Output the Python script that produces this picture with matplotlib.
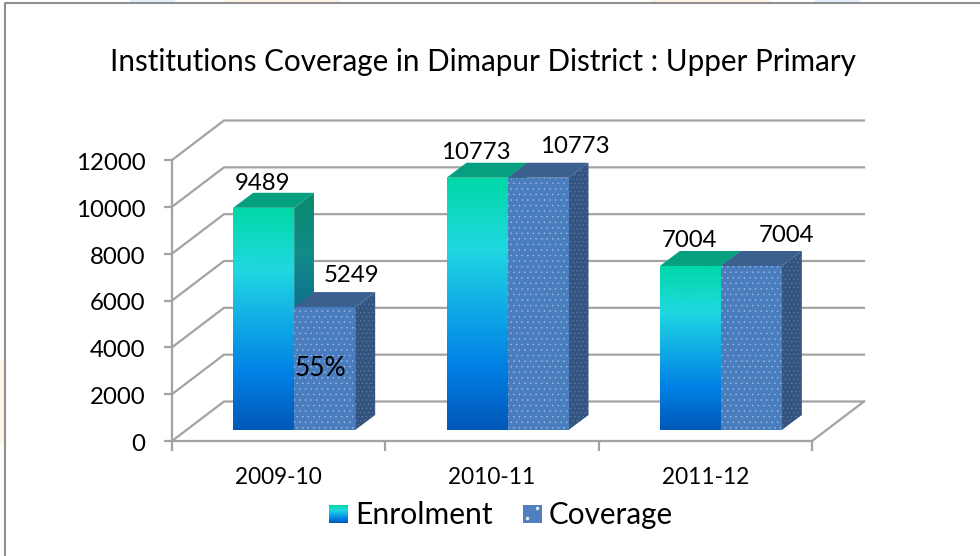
import numpy as np
import matplotlib
matplotlib.use("Agg")
import matplotlib.pyplot as plt
from matplotlib.colors import LinearSegmentedColormap
from matplotlib.lines import Line2D
from matplotlib.patches import Polygon, Rectangle
from matplotlib.transforms import ScaledTranslation

years = ["2009-10", "2010-11", "2011-12"]
enrolment = [9489, 10773, 7004]
coverage = [5249, 10773, 7004]
yticks = [0, 2000, 4000, 6000, 8000, 10000, 12000]
title = "Institutions Coverage in Dimapur District : Upper Primary"
note = "55%"

plt.rcParams["font.family"] = ["Lato", "DejaVu Sans"]
plt.rcParams["hatch.linewidth"] = 0.3

W, H = 980, 556
fig = plt.figure(figsize=(W / 100, H / 100), dpi=100, facecolor="white")
ax = fig.add_axes([172 / W, (H - 441) / H, 640 / W, 281 / H])
ax.set_xlim(0, 3)
ax.set_ylim(0, 12000)

# pixels to data units, the 3d look is only offsets
ux = 3 / 640
uy = 12000 / 281
back_x, back_y = 52 * ux, 39.5 * uy
base_x, base_y = 15.5 * ux, 11 * uy
depth_x, depth_y = 20 * ux, 15 * uy
bar_w = 61 * ux

grey = "#a3a3a3"
for spine in ["top", "right"]:
    ax.spines[spine].set_visible(False)
for spine in ["left", "bottom"]:
    ax.spines[spine].set_color(grey)
    ax.spines[spine].set_linewidth(1.6)
ax.patch.set_alpha(0)

ax.set_yticks(yticks)
ax.set_yticklabels([str(v) for v in yticks], fontsize=17.3)
ax.set_xticks([0, 1, 2, 3])
ax.set_xticklabels([])
ax.set_xticks([0.5, 1.5, 2.5], minor=True)
ax.set_xticklabels(years, minor=True, fontsize=16.3)
ax.tick_params(axis="y", color=grey, width=1.6, length=6, pad=13)
ax.tick_params(axis="x", which="major", color=grey, width=1.6, length=7)
ax.tick_params(axis="x", which="minor", length=0, pad=19)
# nudge the y labels down a little
for lab in ax.get_yticklabels():
    lab.set_transform(lab.get_transform() + ScaledTranslation(0, -1.5 / 100, fig.dpi_scale_trans))

# back wall and floor
for v in yticks:
    ax.plot([0, back_x, 3 + back_x], [v, v + back_y, v + back_y], color=grey, lw=1.6,
            clip_on=False, zorder=1, solid_joinstyle="miter")
ax.plot([3, 3 + back_x], [0, back_y], color=grey, lw=1.6, clip_on=False, zorder=1)

front_cmap = LinearSegmentedColormap.from_list(
    "front", [(0, "#0058b8"), (0.25, "#0080e4"), (0.5, "#12aee6"), (0.72, "#20d8e0"), (1, "#00d8a6")])
side_cmap = LinearSegmentedColormap.from_list(
    "side", [(0, "#043a78"), (0.5, "#0a6f8c"), (0.72, "#128a8c"), (1, "#0a8a6c")])
grad = np.linspace(0, 1, 256).reshape(-1, 1)


def gradient_poly(points, cmap, x0, x1, y0, y1, z):
    im = ax.imshow(grad, cmap=cmap, origin="lower", extent=[x0, x1, y0, y1], aspect="auto",
                   zorder=z, clip_on=True)
    clip = Polygon(points, transform=ax.transData, fill=False, lw=0)
    ax.add_patch(clip)
    clip.set_clip_on(False)
    im.set_clip_path(clip)
    im.set_clip_on(True)


def enrol_bar(x, v, z):
    y0, y1 = base_y, base_y + v
    gradient_poly([(x + bar_w, y0), (x + bar_w + depth_x, y0 + depth_y),
                   (x + bar_w + depth_x, y1 + depth_y), (x + bar_w, y1)],
                  side_cmap, x, x + bar_w + depth_x, y0, y1 + depth_y, z)
    gradient_poly([(x, y0), (x + bar_w, y0), (x + bar_w, y1), (x, y1)],
                  front_cmap, x, x + bar_w, y0, y1, z + 0.1)
    ax.add_patch(Polygon([(x, y1), (x + bar_w, y1), (x + bar_w + depth_x, y1 + depth_y),
                          (x + depth_x, y1 + depth_y)], fc="#05a080", ec="none", zorder=z + 0.1,
                         clip_on=False))


def cover_bar(x, v, z):
    y0, y1 = base_y, base_y + v
    ax.add_patch(Polygon([(x + bar_w, y0), (x + bar_w + depth_x, y0 + depth_y),
                          (x + bar_w + depth_x, y1 + depth_y), (x + bar_w, y1)],
                         fc="#33547f", ec="#6585ad", lw=0, hatch="....", zorder=z, clip_on=False))
    ax.add_patch(Rectangle((x, y0), bar_w, v, fc="#4a7dbd", ec="#a3c0e4", lw=0, hatch="...",
                           zorder=z + 0.1, clip_on=False))
    ax.add_patch(Polygon([(x, y1), (x + bar_w, y1), (x + bar_w + depth_x, y1 + depth_y),
                          (x + depth_x, y1 + depth_y)], fc="#3b6090", ec="none", zorder=z + 0.1,
                         clip_on=False))


for i in range(len(years)):
    x = i + 0.5 + base_x - bar_w
    enrol_bar(x, enrolment[i], 3 + i)
    cover_bar(x + bar_w, coverage[i], 3.5 + i)

ax.set_xlim(0, 3)
ax.set_ylim(0, 12000)

# value labels, pixel offsets from the bar's top centre
enrol_off = [(-1, 24), (-1, 25), (-1, 25)]
cover_off = [(27, 32), (37, 31), (35, 30)]
for i in range(len(years)):
    cx = i + 0.5 + base_x - bar_w / 2
    ax.annotate(str(enrolment[i]), (cx, base_y + enrolment[i]), xytext=(enrol_off[i][0] * 0.72, enrol_off[i][1] * 0.72),
                textcoords="offset points", ha="center", va="center", fontsize=17.3, zorder=10,
                annotation_clip=False)
    cx2 = cx + bar_w
    ax.annotate(str(coverage[i]), (cx2, base_y + coverage[i]), xytext=(cover_off[i][0] * 0.72, cover_off[i][1] * 0.72),
                textcoords="offset points", ha="center", va="center", fontsize=17.3, zorder=10,
                annotation_clip=False)

fig.text(320 / W, 1 - 368 / H, note, ha="center", va="center", fontsize=19, zorder=20)
fig.text(482.5 / W, 1 - 62 / H, title, ha="center", va="center", fontsize=21.3)

# legend
sw1 = fig.add_axes([329 / W, 1 - 523 / H, 19 / W, 18 / H])
sw1.imshow(grad, cmap=front_cmap, origin="lower", aspect="auto")
sw1.axis("off")
sw2 = fig.add_axes([523 / W, 1 - 523 / H, 19 / W, 18 / H])
sw2.set_xlim(0, 1)
sw2.set_ylim(0, 1)
sw2.add_patch(Rectangle((0, 0), 1, 1, fc="#5080bd", ec="none"))
sw2.plot([0.75, 0.2], [0.85, 0.3], ls="none", marker="o", ms=1.5, color="#dfe9f5")
sw2.axis("off")
fig.text(355 / W, 1 - 515 / H, "Enrolment", ha="left", va="center", fontsize=21.6)
fig.text(549 / W, 1 - 515 / H, "Coverage", ha="left", va="center", fontsize=21.3)

# faint slide background showing round the frame
tints = [(130, 175, "#e6f0f9"), (225, 340, "#fdf5e3"), (650, 770, "#fdf5e3"), (815, 860, "#e4ecfa")]
for x0, x1, c in tints:
    fig.add_artist(Rectangle((x0 / W, 1 - 3 / H), (x1 - x0) / W, 3 / H, fc=c, ec="none",
                             transform=fig.transFigure))
fig.add_artist(Rectangle((0, 1 - 445 / H), 4 / W, 85 / H, fc="#fdf6e6", ec="none",
                         transform=fig.transFigure))

# outer frame
fig.add_artist(Line2D([5 / W, 5 / W, 1], [0, 1 - 3 / H, 1 - 3 / H], color="#8f8f8f", lw=1.5))

fig.savefig("out.png", dpi=100)
